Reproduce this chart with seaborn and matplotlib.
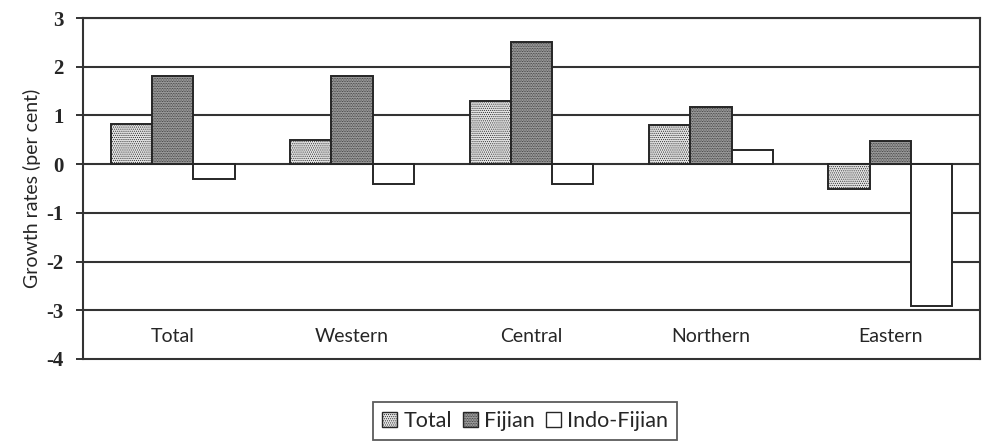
import matplotlib
matplotlib.use("Agg")
import matplotlib.pyplot as plt
import seaborn as sns
import pandas as pd
from matplotlib.patches import Patch

regions = ["Total", "Western", "Central", "Northern", "Eastern"]
groups = ["Total", "Fijian", "Indo-Fijian"]
total_rates = [0.82, 0.5, 1.3, 0.8, -0.52]
fijian_rates = [1.8, 1.8, 2.5, 1.18, 0.48]
indo_fijian_rates = [-0.3, -0.4, -0.4, 0.29, -2.92]

df = pd.DataFrame({
    "region": regions * 3,
    "group": [g for g in groups for _ in regions],
    "rate": total_rates + fijian_rates + indo_fijian_rates,
})

sns.set_theme(style="white")
plt.rcParams["font.family"] = ["Lato", "DejaVu Sans"]
plt.rcParams["hatch.linewidth"] = 0.5

fills = {"Total": "#e4e4e4", "Fijian": "#a6a6a6", "Indo-Fijian": "#ffffff"}
hatches = {"Total": "........", "Fijian": "..........", "Indo-Fijian": ""}
ink = "#262626"

fig = plt.figure(figsize=(9.83, 4.46), dpi=100)
ax = fig.add_axes([83 / 983, 1 - 359 / 446, 897 / 983, 341 / 446])

sns.barplot(data=df, x="region", y="rate", hue="group", order=regions,
            hue_order=groups, palette=fills, width=0.69, edgecolor=ink,
            linewidth=1.4, legend=False, ax=ax, zorder=3)

for container, g in zip(ax.containers, groups):
    for bar in container:
        bar.set_hatch(hatches[g])
        bar.set_zorder(3)

ax.set_ylim(-4, 3)
ax.set_xlim(-0.5, 4.5)
ax.set_yticks(range(-4, 4))
ax.set_yticklabels([str(v) for v in range(-4, 4)], fontsize=15, fontweight="bold",
                   family=["Liberation Serif", "DejaVu Serif"], color=ink)
for v in range(-3, 4):
    ax.axhline(v, color="#333333", linewidth=1.5, zorder=1)

ax.set_xticks([])
ax.set_xlabel("")
for i, r in enumerate(regions):
    ax.text(i, -3.53, r, ha="center", va="center", fontsize=14, color=ink)

ax.set_ylabel("Growth rates (per cent)", fontsize=14, color=ink, labelpad=4)
ax.tick_params(axis="y", which="both", left=True, length=5, width=1.4, color="#333333", pad=9)
for s in ax.spines.values():
    s.set_color("#333333")
    s.set_linewidth(1.5)
    s.set_visible(True)

handles = [Patch(facecolor=fills[g], edgecolor=ink, hatch=hatches[g], label=g) for g in groups]
leg = fig.legend(handles=handles, loc="center", bbox_to_anchor=(525 / 983, 1 - 421 / 446), ncol=3,
                 frameon=True, fancybox=False, edgecolor="#333333", fontsize=15.5,
                 handlelength=0.7, handleheight=0.7, handletextpad=0.3, columnspacing=0.5,
                 borderpad=0.4)
leg.get_frame().set_linewidth(1.3)

fig.savefig("out.png", dpi=100, facecolor="white")
